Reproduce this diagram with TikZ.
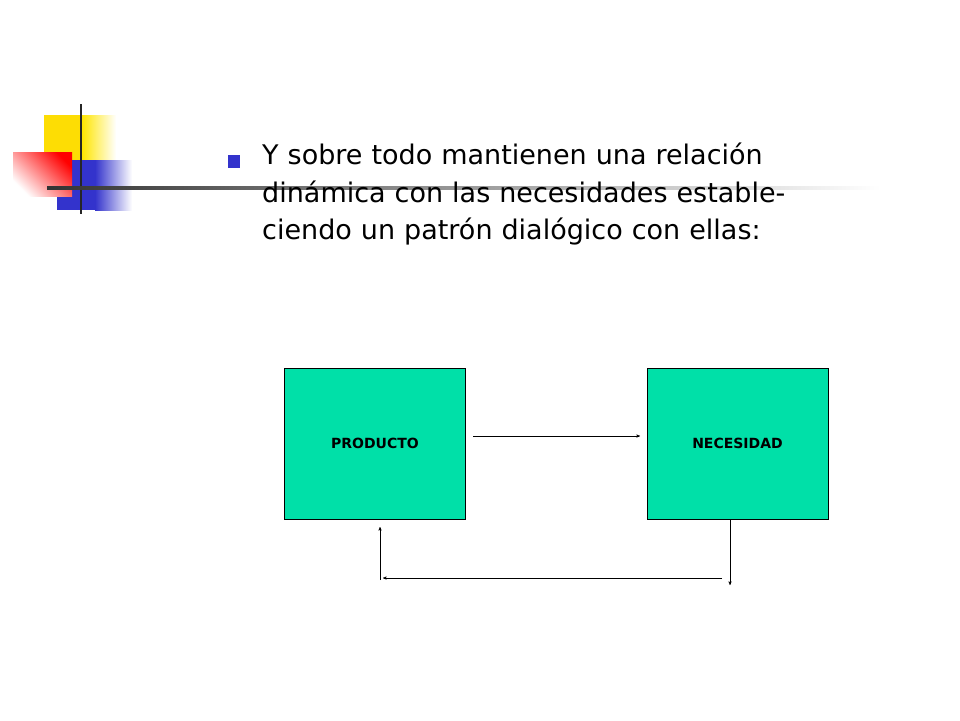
\documentclass[tikz,border=0pt]{standalone}
\usepackage{fontspec}
\setmainfont{DejaVu Sans}
\usetikzlibrary{arrows}
\definecolor{boxgreen}{HTML}{00E0A8}
\definecolor{bulletblue}{HTML}{3333CC}
\tikzstyle{bloque} = [rectangle, draw, fill=boxgreen, minimum width=181pt,
    minimum height=151pt, font=\fontsize{14}{16}\selectfont\bfseries, inner sep=0pt]

\begin{document}
\begin{tikzpicture}[x=1pt,y=-1pt,>=stealth',thin]
  \useasboundingbox (0,0) rectangle (960,720);
  % logo
  \fill[left color=yellow!80!orange, right color=white] (82,115) rectangle (116,160);
  \fill[yellow!80!orange] (44,115) rectangle (82,160);
  \fill[left color=bulletblue, right color=white] (95,160) rectangle (132,210);
  \fill[bulletblue] (57,160) rectangle (95,210);
  \shade[bottom color=white, top color=red, shading angle=-45] (13,152) rectangle (72,196);
  \draw[line width=2.5pt, black!85] (81,104) -- (81,214);
  \shade[left color=black!80, right color=white] (47,186.5) rectangle (880,189.5);
  % bullet text
  \fill[bulletblue] (228,155) rectangle (240,168);
  \node[anchor=north west, align=left, inner sep=0pt, text width=600pt,
        font=\fontsize{27}{37.5}\selectfont] (txt) at (262,143)
    {Y sobre todo mantienen una relación dinámica con las necesidades estableciendo un patrón dialógico con ellas:};
  % diagram
  \node[bloque] (prod) at (375,443.5) {PRODUCTO};
  \node[bloque] (nec)  at (737.5,443.5) {NECESIDAD};
  \coordinate (c1) at (730,585);
  \coordinate (c2) at (722,578);
  \coordinate (c3) at (383,578);
  \coordinate (c4) at (380,580);
  \coordinate (c5) at (380,527);
  \coordinate (c6) at (473,436);
  \coordinate (c7) at (640,436);
  \draw[->] (c6) -- (c7);
  \draw[->] (nec.south -| c1) -- (c1);
  \draw[->] (c2) -- (c3);
  \draw[->] (c4) -- (c5);
\end{tikzpicture}
\end{document}
